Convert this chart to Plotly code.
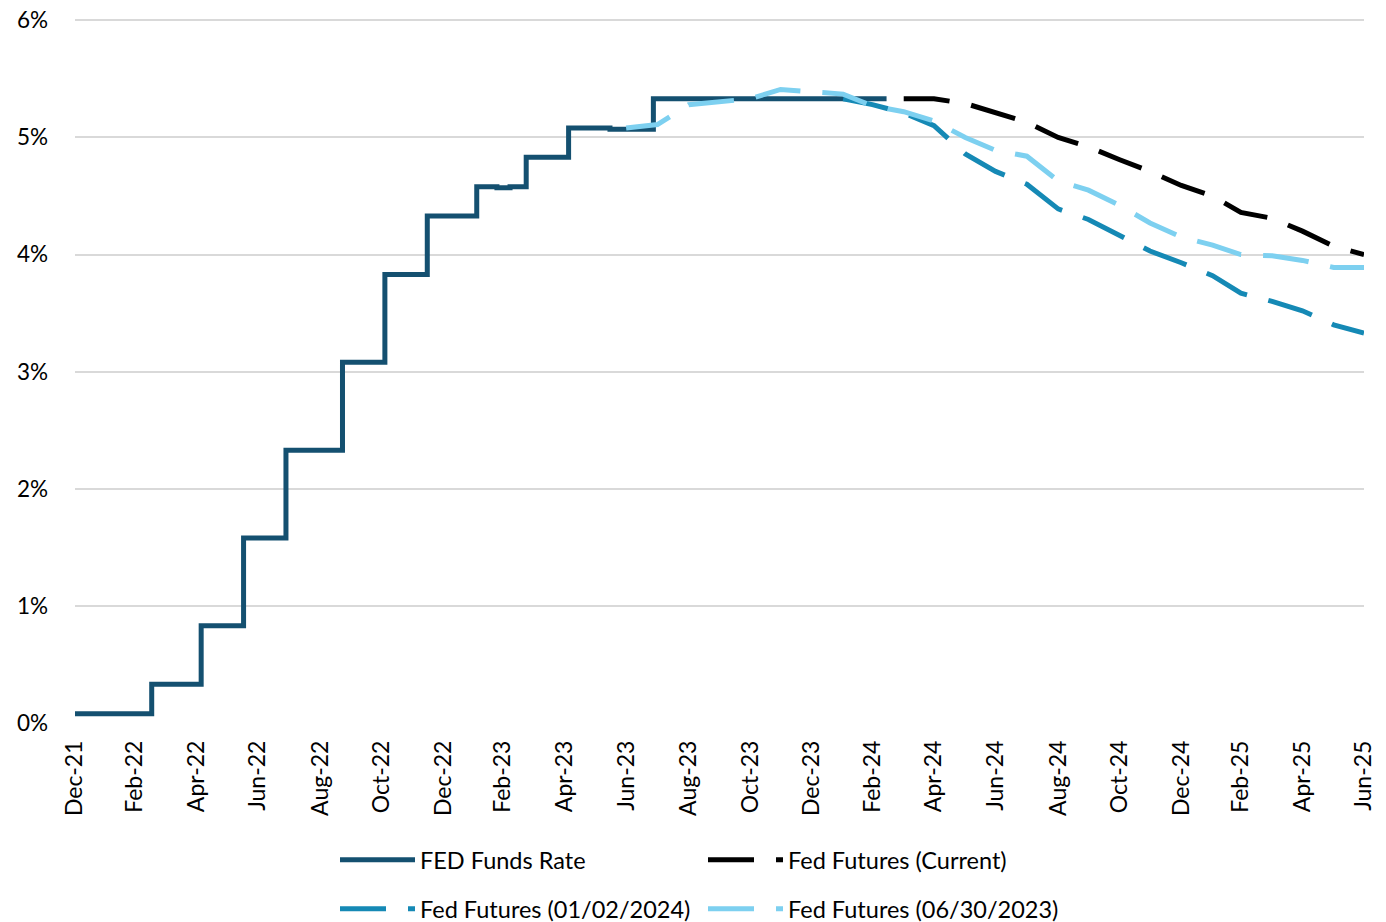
import plotly.graph_objects as go

# ---- Data ----
ff_dates = ["2021-12-31", "2022-03-17", "2022-05-05", "2022-06-16", "2022-07-28",
            "2022-09-22", "2022-11-03", "2022-12-15", "2023-02-02", "2023-02-22",
            "2023-03-07", "2023-03-23", "2023-05-04", "2023-06-14", "2023-07-27",
            "2024-03-14"]
ff_values = [0.08, 0.33, 0.83, 1.58, 2.33, 3.08, 3.83, 4.33, 4.58, 4.57,
             4.58, 4.83, 5.08, 5.07, 5.33, 5.33]

cur_dates = ["2024-03-31", "2024-04-30", "2024-05-31", "2024-06-30", "2024-07-31",
             "2024-08-31", "2024-09-30", "2024-10-31", "2024-11-30", "2024-12-31",
             "2025-01-31", "2025-02-28", "2025-03-31", "2025-04-30", "2025-05-31",
             "2025-06-30"]
cur_values = [5.33, 5.33, 5.29, 5.21, 5.13, 5.00, 4.92, 4.81, 4.71, 4.59,
              4.50, 4.36, 4.31, 4.20, 4.07, 4.00]

jan_dates = ["2024-01-31", "2024-02-29", "2024-03-31", "2024-04-30", "2024-05-31",
             "2024-06-30", "2024-07-31", "2024-08-31", "2024-09-30", "2024-10-31",
             "2024-11-30", "2024-12-31", "2025-01-31", "2025-02-28", "2025-03-31",
             "2025-04-30", "2025-05-31", "2025-06-30"]
jan_values = [5.33, 5.28, 5.21, 5.10, 4.86, 4.71, 4.60, 4.39, 4.30, 4.16,
              4.03, 3.93, 3.82, 3.67, 3.60, 3.52, 3.40, 3.33]

jun_dates = ["2023-06-30", "2023-07-31", "2023-08-31", "2023-09-30", "2023-10-31",
             "2023-11-30", "2023-12-31", "2024-01-31", "2024-02-29", "2024-03-31",
             "2024-04-30", "2024-05-31", "2024-06-30", "2024-07-31", "2024-08-31",
             "2024-09-30", "2024-10-31", "2024-11-30", "2024-12-31", "2025-01-31",
             "2025-02-28", "2025-03-31", "2025-04-30", "2025-05-31", "2025-06-30"]
jun_values = [5.08, 5.11, 5.28, 5.30, 5.33, 5.41, 5.39, 5.37, 5.27, 5.22,
              5.14, 5.00, 4.89, 4.84, 4.63, 4.55, 4.42, 4.27, 4.15, 4.08,
              4.00, 3.99, 3.95, 3.89, 3.89]

x_tick_vals = ["2021-12-31", "2022-02-28", "2022-04-30", "2022-06-30", "2022-08-31",
               "2022-10-31", "2022-12-31", "2023-02-28", "2023-04-30", "2023-06-30",
               "2023-08-31", "2023-10-31", "2023-12-31", "2024-02-29", "2024-04-30",
               "2024-06-30", "2024-08-31", "2024-10-31", "2024-12-31", "2025-02-28",
               "2025-04-30", "2025-06-30"]
x_tick_text = ["Dec-21", "Feb-22", "Apr-22", "Jun-22", "Aug-22", "Oct-22", "Dec-22",
               "Feb-23", "Apr-23", "Jun-23", "Aug-23", "Oct-23", "Dec-23", "Feb-24",
               "Apr-24", "Jun-24", "Aug-24", "Oct-24", "Dec-24", "Feb-25", "Apr-25",
               "Jun-25"]
y_tick_vals = [0, 1, 2, 3, 4, 5, 6]
y_tick_text = ["0%", "1%", "2%", "3%", "4%", "5%", "6%"]

NAVY = "#145070"
TEAL = "#1589b5"
LIGHT = "#7dd0f0"
DASH = "46px,22px"
FONT = "Lato"

fig = go.Figure()
fig.add_trace(go.Scatter(x=ff_dates, y=ff_values, mode="lines", name="FED Funds Rate",
                         line=dict(color=NAVY, width=5, shape="hv"), legend="legend"))
fig.add_trace(go.Scatter(x=cur_dates, y=cur_values, mode="lines", name="Fed Futures (Current)",
                         line=dict(color="#000000", width=5, dash=DASH), legend="legend"))
fig.add_trace(go.Scatter(x=jan_dates, y=jan_values, mode="lines", name="Fed Futures (01/02/2024)",
                         line=dict(color=TEAL, width=5, dash=DASH), legend="legend2"))
fig.add_trace(go.Scatter(x=jun_dates, y=jun_values, mode="lines", name="Fed Futures (06/30/2023)",
                         line=dict(color=LIGHT, width=5, dash=DASH), legend="legend2"))

legend_common = dict(orientation="h", xref="container", yref="container",
                     xanchor="left", yanchor="middle",
                     font=dict(family=FONT, size=23.5, color="#000000"),
                     entrywidth=278, entrywidthmode="pixels",
                     itemwidth=75, bgcolor="rgba(0,0,0,0)")

fig.update_layout(
    width=1386, height=922,
    margin=dict(l=67, r=30, t=10, b=207),
    plot_bgcolor="white", paper_bgcolor="white",
    font=dict(family=FONT, size=22, color="#000000"),
    showlegend=True,
    legend=dict(x=327 / 1386, y=1 - 852 / 922, **legend_common),
    legend2=dict(x=327 / 1386, y=1 - 901 / 922, **legend_common),
    xaxis=dict(
        type="date", automargin=False,
        range=["2021-12-31", "2025-06-30"],
        tickvals=x_tick_vals, ticktext=x_tick_text,
        tickangle=-90, showgrid=False, zeroline=False, showline=False,
        ticks="", ticklabelstandoff=12, ticklabeloverflow="allow",
        tickfont=dict(family=FONT, size=23, color="#000000"),
    ),
    yaxis=dict(
        automargin=False,
        range=[0, 6.02], tickvals=y_tick_vals, ticktext=y_tick_text,
        showgrid=True, gridcolor="#d9d9d9", gridwidth=1.5,
        zeroline=False, showline=False, ticks="", ticklabelstandoff=26,
        ticklabeloverflow="allow",
        tickfont=dict(family=FONT, size=22.5, color="#000000"),
    ),
)

fig.write_html("out.html")
